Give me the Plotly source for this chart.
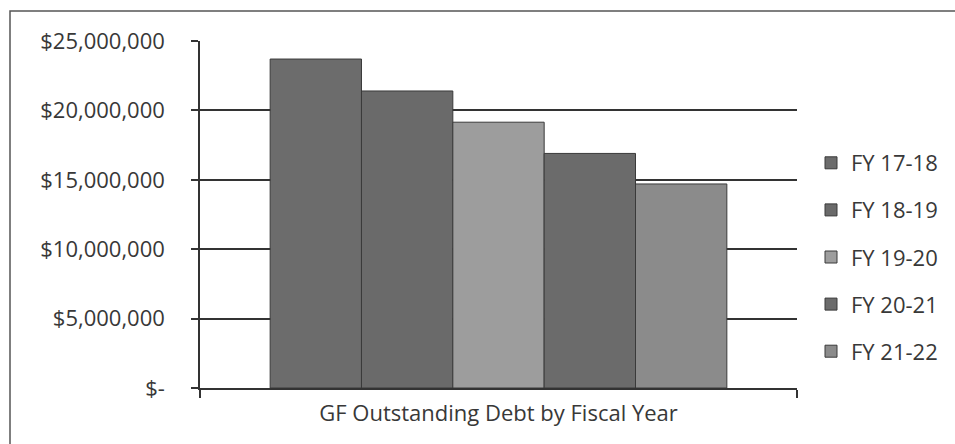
import plotly.graph_objects as go

category = ["GF Outstanding Debt by Fiscal Year"]
series_names = ["FY 17-18", "FY 18-19", "FY 19-20", "FY 20-21", "FY 21-22"]
series_values = [23700000, 21400000, 19150000, 16900000, 14700000]
series_colors = ["#6c6c6c", "#6a6a6a", "#9d9d9d", "#6b6b6b", "#8b8b8b"]
ytick_vals = [0, 5000000, 10000000, 15000000, 20000000, 25000000]
ytick_text = ["$-", "$5,000,000", "$10,000,000", "$15,000,000", "$20,000,000", "$25,000,000"]

FONT = "Open Sans"
TXT = "#383838"
FS = 22

fig = go.Figure()
for name, val, col in zip(series_names, series_values, series_colors):
    fig.add_trace(go.Bar(
        x=category, y=[val], name=name, legendgroup=name,
        marker=dict(color=col, line=dict(color="#3a3a3a", width=1)),
    ))

W, H = 955, 444
L, R, T, B = 200, 158, 41, 56
pw, ph = W - L - R, H - T - B

def px_x(px):
    return (px - L) / pw

def px_y(py):
    return (H - B - py) / ph

fig.update_layout(
    width=W, height=H,
    margin=dict(l=L, r=R, t=T, b=B, pad=0, autoexpand=False),
    paper_bgcolor="#ffffff", plot_bgcolor="#ffffff",
    font=dict(family=FONT, size=FS, color=TXT),
    barmode="group", bargap=0.235, bargroupgap=0,
    showlegend=True,
    legend=dict(
        x=px_x(811), y=px_y(142), xanchor="left", yanchor="top",
        font=dict(family=FONT, size=FS, color=TXT),
        itemwidth=30, tracegroupgap=15.5, traceorder="grouped",
        bgcolor="rgba(0,0,0,0)",
    ),
    xaxis=dict(
        type="category", showgrid=False, showline=True, linecolor="#333333", linewidth=1.5,
        ticks="outside", tickson="boundaries", ticklen=8, tickcolor="#333333", tickwidth=1.5,
        ticklabelstandoff=5,
        tickfont=dict(family=FONT, size=FS, color=TXT), fixedrange=True,
    ),
    yaxis=dict(
        range=[0, 25000000], tickvals=ytick_vals, ticktext=ytick_text,
        showgrid=True, gridcolor="#333333", gridwidth=1.5,
        showline=True, linecolor="#333333", linewidth=1.5,
        ticks="outside", ticklen=7, tickcolor="#333333", tickwidth=1.5,
        ticklabelstandoff=22, zeroline=False,
        tickfont=dict(family=FONT, size=FS, color=TXT),
    ),
    shapes=[
        dict(type="rect", xref="paper", yref="paper",
             x0=px_x(10), x1=px_x(965), y0=px_y(455), y1=px_y(11),
             line=dict(color="#555555", width=1.5), layer="below"),
    ],
)

fig.write_html(
    "out.html",
    config={"displayModeBar": False},
    post_script="document.body.style.margin='0';document.body.style.overflow='hidden';",
)
